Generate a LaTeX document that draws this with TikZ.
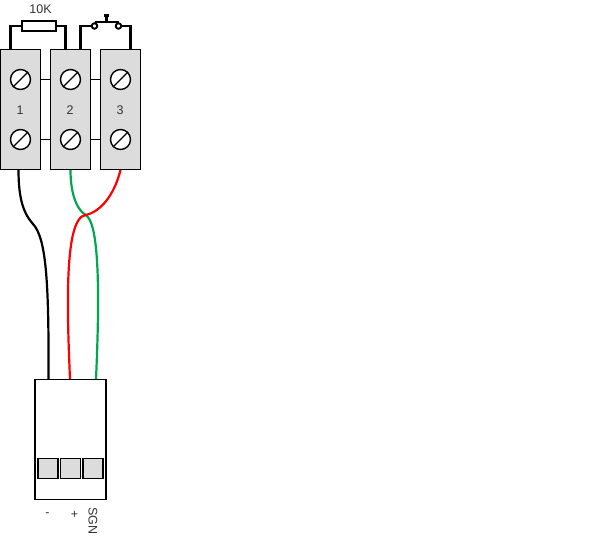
\documentclass[tikz,border=0pt]{standalone}
\usepackage{fontspec}
\setmainfont{Liberation Sans}
\usepackage{xcolor}
\definecolor{blockgray}{HTML}{DCDCDC}
\definecolor{labelgray}{HTML}{333333}
\definecolor{wirered}{HTML}{FF0000}
\definecolor{wiregreen}{HTML}{00A650}
\tikzset{
  blockbox/.style={rectangle, draw=black, fill=blockgray, line width=1.7pt, inner sep=0pt, minimum width=40pt, minimum height=120pt},
  screwhead/.style={circle, draw=black, fill=white, line width=1.4pt, inner sep=0pt, minimum size=20pt},
  padbox/.style={rectangle, draw=black, fill=blockgray, line width=1.6pt, inner sep=0pt, minimum width=20pt, minimum height=20pt},
  caseframe/.style={rectangle, draw=black, line width=1.9pt, inner sep=0pt, minimum width=71pt, minimum height=120pt},
  resbox/.style={rectangle, draw=black, fill=white, line width=2.5pt, inner sep=0pt, minimum width=34pt, minimum height=10pt},
  pole/.style={circle, draw=black, fill=white, line width=1.9pt, inner sep=0pt, minimum size=5.5pt},
  txt/.style={text=labelgray, font=\fontsize{12.5}{14}\selectfont, inner sep=0pt},
  wire/.style={line width=2.2pt},
  jumper/.style={line width=2.1pt},
  link/.style={line width=1.2pt}
}
\begin{document}
\begin{tikzpicture}[x=1pt, y=-1pt]
  \useasboundingbox (0,0) rectangle (591,539);
  % terminal blocks
  \foreach \n/\x in {1/20.5, 2/70.5, 3/120.5} {
    \node[blockbox] (block\n) at (\x,109.5) {};
    \node[screwhead] (top\n) at (\x,79.5) {};
    \node[screwhead] (bot\n) at (\x,139.5) {};
    \draw[link] (top\n.south west) -- (top\n.north east);
    \draw[link] (bot\n.south west) -- (bot\n.north east);
    \node[txt] (num\n) at (\x-0.5,110) {\n};
  }
  \draw[link] (block1.east |- top1) -- (block2.west |- top2);
  \draw[link] (block1.east |- bot1) -- (block2.west |- bot2);
  \draw[link] (block2.east |- top2) -- (block3.west |- top3);
  \draw[link] (block2.east |- bot2) -- (block3.west |- bot3);
  % resistor
  \node[resbox] (res) at (39,26) {};
  \node[txt] (reslabel) at (40.5,9) {10K};
  \coordinate (resL) at (10.5,49);
  \coordinate (resR) at (65.5,49);
  \draw[jumper] (resL) |- (res.west);
  \draw[jumper] (resR) |- (res.east);
  % push button
  \coordinate (swL) at (80.5,49);
  \coordinate (swR) at (130.5,49);
  \coordinate (stem) at (106.5,23);
  \coordinate (knob) at (106.5,15.5);
  \coordinate (knobL) at (104,15.5);
  \coordinate (knobR) at (109,15.5);
  \node[pole] (poleL) at (94.5,26) {};
  \node[pole] (poleR) at (118.5,26) {};
  \draw[jumper] (swL) |- (poleL.west);
  \draw[jumper] (swR) |- (poleR.east);
  \draw[jumper] (poleL.north) -- (poleR.north);
  \draw[jumper] (stem) -- (knob);
  \draw[jumper] (knobL) -- (knobR);
  % case
  \node[caseframe] (case) at (70.5,439.5) {};
  \node[padbox] (pad1) at (48,468.5) {};
  \node[padbox] (pad2) at (70.5,468.5) {};
  \node[padbox] (pad3) at (93,468.5) {};
  \node[txt] (minus) at (47.5,514.5) {-};
  \node[txt] (plus) at (74.5,514.5) {+};
  \node[txt, rotate=-90] (sgn) at (93,521) {SGN};
  % wires
  \coordinate (blackA) at (18.5,170);
  \coordinate (blackB) at (48.5,379);
  \coordinate (greenA) at (70.5,170);
  \coordinate (greenB) at (96,379);
  \coordinate (redA) at (120.5,170);
  \coordinate (redB) at (70,379);
  \coordinate (cross) at (85.5,215);
  \draw[wire, black] (blackA) .. controls (18.5,200) and (24,214) .. (33,224) .. controls (46,238) and (49,280) .. (blackB);
  \draw[wire, wiregreen] (greenA) .. controls (70.5,190) and (75,208) .. (cross) .. controls (99,222) and (100,290) .. (greenB);
  \draw[wire, wirered] (redA) .. controls (114,196) and (100,212) .. (cross) .. controls (64,218) and (67,310) .. (redB);
\end{tikzpicture}
\end{document}
